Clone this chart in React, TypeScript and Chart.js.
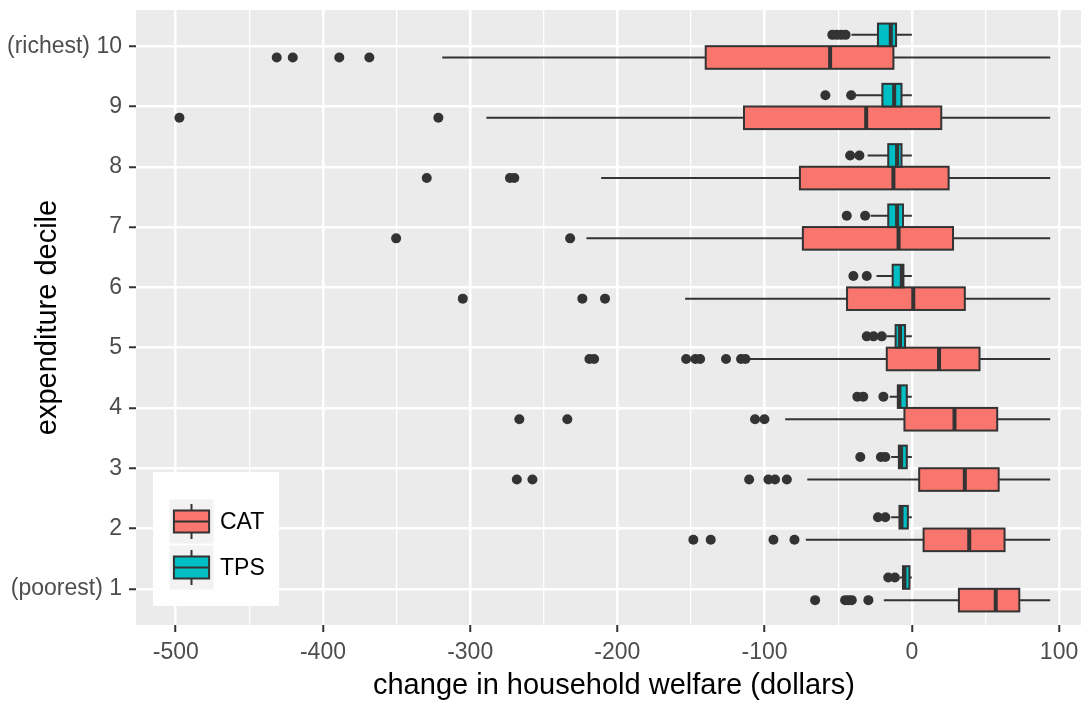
import React, { useEffect, useRef } from "react";
import { Chart, registerables } from "chart.js";

Chart.register(...registerables);

// ---------- data ----------
const deciles = [1, 2, 3, 4, 5, 6, 7, 8, 9, 10];
const decileLabels = ["(poorest) 1", "2", "3", "4", "5", "6", "7", "8", "9", "(richest) 10"];
const xTicks = [-500, -450, -400, -350, -300, -250, -200, -150, -100, -50, 0, 50, 100];
const groupNames = ["CAT", "TPS"];

// CAT box statistics per decile (1..10)
const catLow = [-19, -72, -71, -86, -110, -154, -221, -211, -289, -319];
const catQ1 = [32, 8, 5, -5, -17, -44, -74, -76, -114, -140];
const catMedian = [57, 39, 36, 29, 18.5, 1, -9, -12.5, -31, -55.5];
const catQ3 = [73, 63, 59, 58, 46, 36, 28, 25, 20, -12.5];
const catHigh = [94, 94, 94, 94, 94, 94, 94, 94, 94, 94];
const catOutliers = [
  [-65.7, -45.3, -43, -40.8, -29.5],
  [-148.4, -136.6, -94, -79.7],
  [-268.3, -257.7, -110.5, -97.4, -92.9, -84.9],
  [-266.6, -234, -106.5, -100.1],
  [-219, -215.8, -153.3, -147, -143.8, -126.2, -116, -113],
  [-305, -223.8, -208.4],
  [-350.3, -232.1],
  [-329.5, -273, -270],
  [-497.5, -321.6],
  [-431.4, -420.5, -388.9, -368.5],
];

// TPS box statistics per decile (1..10)
const tpsLow = [-8, -14, -14, -15, -17, -24, -28, -30, -38, -41];
const tpsQ1 = [-6, -8.4, -8.8, -9.5, -11, -13, -16, -16, -20, -23];
const tpsMedian = [-5, -7, -7.3, -8.4, -8, -6.8, -10, -10, -12, -14.3];
const tpsQ3 = [-1.6, -2.7, -3.4, -3.4, -4.6, -5.7, -6, -7, -7, -10.7];
const tpsHigh = [0, 0, 0, 0, 0, 0, 0, 0, 0, 0];
const tpsOutliers = [
  [-16, -11.5],
  [-23, -18],
  [-35, -21, -18],
  [-37, -33, -19.3],
  [-30.6, -26, -20.4],
  [-39.7, -30.6],
  [-44.2, -31.7],
  [-41.9, -35.6],
  [-58.7, -41.2],
  [-54, -51, -48, -45],
];

// ---------- styling ----------
const FONT = '"Liberation Sans", Arial, sans-serif';
const CAT_FILL = "#F8766D";
const TPS_FILL = "#00BFC4";
const DARK = "#333333";
const DODGE = 0.1875;
const HALF = 0.1875;

type Stats = { low: number[]; q1: number[]; med: number[]; q3: number[]; high: number[] };
const groups: { name: string; fill: string; off: number; s: Stats; out: number[][] }[] = [
  { name: groupNames[0], fill: CAT_FILL, off: -DODGE, s: { low: catLow, q1: catQ1, med: catMedian, q3: catQ3, high: catHigh }, out: catOutliers },
  { name: groupNames[1], fill: TPS_FILL, off: DODGE, s: { low: tpsLow, q1: tpsQ1, med: tpsMedian, q3: tpsQ3, high: tpsHigh }, out: tpsOutliers },
];

const boxPlugin = {
  id: "ggboxes",
  beforeDraw(chart: any) {
    const { ctx, chartArea: a } = chart;
    ctx.save();
    ctx.fillStyle = "#EBEBEB";
    ctx.fillRect(a.left, a.top, a.right - a.left, a.bottom - a.top);
    ctx.restore();
  },
  beforeDatasetsDraw(chart: any) {
    const { ctx, chartArea: a, scales } = chart;
    const xs = scales.x;
    const ys = scales.y;
    ctx.save();
    ctx.beginPath();
    ctx.rect(a.left, a.top, a.right - a.left, a.bottom - a.top);
    ctx.clip();
    for (const g of groups) {
      deciles.forEach((d, i) => {
        const yc = ys.getPixelForValue(d + g.off);
        const yt = ys.getPixelForValue(d + g.off + HALF);
        const yb = ys.getPixelForValue(d + g.off - HALF);
        const xl = xs.getPixelForValue(g.s.low[i]);
        const x1 = xs.getPixelForValue(g.s.q1[i]);
        const xm = xs.getPixelForValue(g.s.med[i]);
        const x3 = xs.getPixelForValue(g.s.q3[i]);
        const xh = xs.getPixelForValue(g.s.high[i]);
        ctx.strokeStyle = DARK;
        ctx.lineWidth = 2;
        ctx.beginPath();
        ctx.moveTo(xl, yc);
        ctx.lineTo(x1, yc);
        ctx.moveTo(x3, yc);
        ctx.lineTo(xh, yc);
        ctx.stroke();
        ctx.fillStyle = g.fill;
        ctx.fillRect(x1, yt, x3 - x1, yb - yt);
        ctx.strokeRect(x1, yt, x3 - x1, yb - yt);
        ctx.lineWidth = 4;
        ctx.beginPath();
        ctx.moveTo(xm, yt);
        ctx.lineTo(xm, yb);
        ctx.stroke();
      });
    }
    ctx.restore();
  },
  afterDraw(chart: any) {
    const { ctx } = chart;
    ctx.save();
    // legend box
    ctx.fillStyle = "#FFFFFF";
    ctx.fillRect(153, 472, 126, 134);
    const keyX = 169.5;
    const keyS = 44;
    const keyYs = [499.5, 545.5];
    groups.forEach((g, i) => {
      const ky = keyYs[i];
      ctx.fillStyle = "#F2F2F2";
      ctx.fillRect(keyX, ky, keyS, keyS);
      const cx = keyX + keyS / 2;
      ctx.strokeStyle = DARK;
      ctx.lineWidth = 2;
      ctx.beginPath();
      ctx.moveTo(cx, ky + keyS * 0.1);
      ctx.lineTo(cx, ky + keyS * 0.25);
      ctx.moveTo(cx, ky + keyS * 0.75);
      ctx.lineTo(cx, ky + keyS * 0.9);
      ctx.stroke();
      const bx = keyX + keyS * 0.1;
      const bw = keyS * 0.8;
      const by = ky + keyS * 0.25;
      const bh = keyS * 0.5;
      ctx.fillStyle = g.fill;
      ctx.fillRect(bx, by, bw, bh);
      ctx.strokeRect(bx, by, bw, bh);
      ctx.beginPath();
      ctx.moveTo(bx, ky + keyS / 2);
      ctx.lineTo(bx + bw, ky + keyS / 2);
      ctx.stroke();
      ctx.fillStyle = "#000000";
      ctx.font = `23px ${FONT}`;
      ctx.textAlign = "left";
      ctx.textBaseline = "middle";
      ctx.fillText(g.name, 220, ky + keyS / 2 + 1);
    });
    ctx.restore();
  },
};

export default function App() {
  const ref = useRef<HTMLCanvasElement>(null);
  useEffect(() => {
    if (!ref.current) return;
    const outlierData = (gi: number) =>
      groups[gi].out.flatMap((vals, i) => vals.map((v) => ({ x: v, y: deciles[i] + groups[gi].off })));
    const chart = new Chart(ref.current, {
      type: "scatter",
      data: {
        datasets: groups.map((g, gi) => ({
          label: g.name,
          data: outlierData(gi),
          pointRadius: 5,
          pointHoverRadius: 5,
          pointBackgroundColor: DARK,
          pointBorderColor: DARK,
          pointBorderWidth: 0,
          clip: false,
        })),
      },
      options: {
        responsive: false,
        animation: false,
        events: [],
        layout: { autoPadding: false, padding: { top: 10, right: 0, left: 0, bottom: 0 } },
        plugins: { legend: { display: false }, tooltip: { enabled: false } },
        scales: {
          x: {
            type: "linear",
            min: -527,
            max: 122.4,
            afterBuildTicks: (s: any) => {
              s.ticks = xTicks.map((v) => ({ value: v }));
            },
            afterFit: (s: any) => {
              s.height = 76;
              s.paddingLeft = 0;
              s.paddingRight = 0;
            },
            border: { display: false },
            grid: {
              color: "#FFFFFF",
              lineWidth: (c: any) => (c.tick && c.tick.value % 100 === 0 ? 2.5 : 1.3),
              tickLength: 7,
              tickWidth: 2,
              tickColor: (c: any) => (c.tick && c.tick.value % 100 === 0 ? DARK : "rgba(0,0,0,0)"),
            },
            ticks: {
              autoSkip: false,
              maxRotation: 0,
              padding: 7,
              color: "#4D4D4D",
              font: { family: FONT, size: 23 },
              callback: (v: any) => (Number(v) % 100 === 0 ? String(v) : ""),
            },
            title: {
              display: true,
              text: "change in household welfare (dollars)",
              color: "#000000",
              font: { family: FONT, size: 29, lineHeight: 1 },
              padding: { top: 0, bottom: 1 },
            },
          },
          y: {
            type: "linear",
            min: 0.4,
            max: 10.6,
            afterBuildTicks: (s: any) => {
              s.ticks = deciles.map((v) => ({ value: v }));
            },
            afterFit: (s: any) => {
              s.width = 136;
              s.paddingTop = 0;
              s.paddingBottom = 0;
            },
            border: { display: false },
            grid: {
              color: "#FFFFFF",
              lineWidth: 2.5,
              tickLength: 7,
              tickWidth: 2,
              tickColor: DARK,
            },
            ticks: {
              autoSkip: false,
              padding: 7,
              color: "#4D4D4D",
              font: { family: FONT, size: 23 },
              callback: (v: any) => {
                const i = deciles.indexOf(Number(v));
                return i >= 0 ? decileLabels[i] : "";
              },
            },
            title: {
              display: true,
              text: "expenditure decile",
              color: "#000000",
              font: { family: FONT, size: 29, lineHeight: 1 },
              padding: { top: 33, bottom: 0 },
            },
          },
        },
      },
      plugins: [boxPlugin],
    } as any);
    return () => chart.destroy();
  }, []);
  return (
    <div style={{ position: "fixed", left: 0, top: 0, width: 1081, height: 701, overflow: "hidden", background: "#FFFFFF" }}>
      <canvas ref={ref} width={1092} height={701} style={{ display: "block" }} />
    </div>
  );
}
